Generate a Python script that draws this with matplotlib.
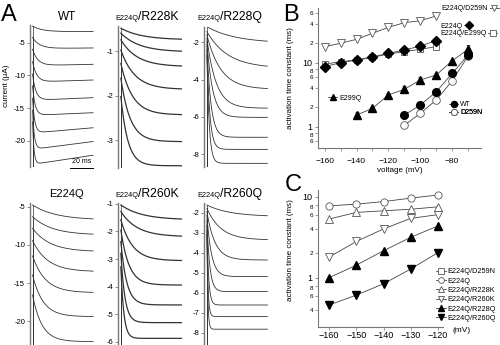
import numpy as np
import matplotlib
matplotlib.use('Agg')
import matplotlib.pyplot as plt
from matplotlib.ticker import FixedLocator, FixedFormatter, MultipleLocator
from matplotlib.lines import Line2D

plt.rcParams['font.family'] = ['Liberation Sans', 'DejaVu Sans']

# ---------------- panel A: current traces (levels in uA, tau in ms) ----------------
wt_start = [-2.45, -4.2, -6.0, -7.9, -9.8, -11.6, -13.5, -15.3, -17.1]
wt_peak = [-3.3, -5.9, -8.5, -11.0, -13.8, -16.1, -18.8, -21.3, -23.6]
wt_end = [-3.3, -5.8, -8.3, -10.7, -13.4, -15.7, -18.0, -20.1, -22.2]
wt_tau = [8, 6, 4.5, 3.5, 2.8, 2.2, 1.8, 1.5, 1.2]

r228k_start = [-0.49, -0.60, -0.75, -0.98, -1.28, -1.61, -2.02]
r228k_end = [-0.75, -1.02, -1.35, -1.86, -2.43, -3.03, -3.57]
r228k_tau = [18, 16, 14, 12, 10, 8, 6]

r228q_start = [-1.16, -1.42, -1.60, -1.78, -1.96, -2.14, -2.41, -2.68]
r228q_end = [-2.05, -3.39, -4.52, -5.54, -6.03, -7.10, -7.75, -8.50]
r228q_tau = [25, 18, 12, 8, 5, 3.5, 2.5, 2]

e224q_start = [-4.79, -6.32, -7.83, -9.45, -11.45, -13.93, -16.54]
e224q_end = [-6.75, -8.71, -10.89, -13.5, -16.24, -19.37, -22.63]
e224q_tau = [20, 17, 15, 13, 11, 9, 8]

r260k_start = [-1.04, -1.28, -1.58, -1.95, -2.37, -2.79, -3.28]
r260k_end = [-1.58, -2.19, -3.06, -3.94, -4.66, -5.30, -5.87]
r260k_tau = [18, 14, 10, 7, 5, 3.5, 2.5]

r260q_start = [-1.62, -1.78, -1.95, -2.12, -2.37, -2.62, -2.87, -3.12]
r260q_end = [-2.2, -3.37, -4.37, -5.2, -5.95, -6.62, -7.2, -7.83]
r260q_tau = [20, 12, 7, 4, 2.5, 1.5, 1.0, 0.8]

# ---------------- panel B: activation time constants (ms) ----------------
volt_b = [-160, -150, -140, -130, -120, -110, -100, -90]
b_e224q_d259n = [17.8, 20.1, 23.2, 28.8, 35.7, 42.2, 45.3, 53.7]
b_e224q = [8.7, 10.0, 11.0, 12.4, 14.0, 15.8, 18.2, 22.1]
b_e224q_e299q = [9.5, 10.4, 11.0, 12.1, 13.7, 14.9, 16.2, 17.8]
volt_b2 = [-140, -130, -120, -110, -100, -90, -80, -70]
b_e299q = [1.52, 1.94, 3.13, 3.84, 5.37, 6.42, 10.7, 16.2]
b_e299q_err = [0.2, 0.1, 0.2, 0.5, 0.7, 0.6, 0.4, 2.6]
volt_b3 = [-110, -100, -90, -80, -70]
b_wt = [1.52, 2.18, 3.5, 6.8, 13.2]
b_d259n = [1.05, 1.62, 2.61, 5.2, 12.7]

# ---------------- panel C ----------------
volt_c = [-160, -150, -140, -130, -120]
c_e224q = [7.7, 8.1, 8.7, 9.6, 10.5]
c_r228k = [5.3, 6.4, 6.7, 7.0, 7.5]
c_r260k = [1.8, 2.8, 4.0, 5.4, 6.0]
c_r228q = [1.0, 1.43, 2.15, 3.15, 4.35]
c_r260q = [0.46, 0.61, 0.84, 1.28, 2.04]

W, H = 500, 345
fig = plt.figure(figsize=(5, 3.45), dpi=100)


def rect(x0, y0, x1, y1):
    # pixel box -> figure fraction
    return [x0 / W, 1 - y1 / H, (x1 - x0) / W, (y1 - y0) / H]


GREY = '#777777'
TR = '#333333'
t = np.linspace(0, 52, 300)


def trace_panel(x0, y0, y1, ylim, yticks, starts, ends, taus, peaks=None, lw=0.6):
    ax = fig.add_axes(rect(x0, y0, x0 + 66.6, y1))
    ax.set_xlim(-2.2, 55)
    ax.set_ylim(ylim)
    for s in ['top', 'right', 'bottom']:
        ax.spines[s].set_visible(False)
    ax.spines['left'].set_color(GREY)
    ax.spines['left'].set_linewidth(1.0)
    ax.set_xticks([])
    ax.set_yticks(yticks)
    ax.set_yticklabels([str(v) for v in yticks])
    ax.tick_params(axis='y', length=2, width=0.6, color=GREY, labelsize=5.5, pad=1.5)
    if peaks is None:
        peaks = ends
    for s, p, e, tau in zip(starts, peaks, ends, taus):
        y = s + (p - s) * (1 - np.exp(-t / tau)) + (e - p) * t / t[-1]
        ax.plot(t, y, color=TR, lw=lw)
        ax.plot([0, 0], [s, ylim[0] - 10], color=TR, lw=0.5)
    ax.patch.set_visible(False)
    return ax


ax_wt = trace_panel(30, 25, 167, (-24.0, -2.29), [-5, -10, -15, -20], wt_start, wt_end, wt_tau, wt_peak)
trace_panel(118.3, 26, 168, (-3.62, -0.44), [-1, -2, -3], r228k_start, r228k_end, r228k_tau, lw=0.9)
trace_panel(204.3, 26.7, 166.7, (-8.68, -1.16), [-2, -4, -6, -8], r228q_start, r228q_end, r228q_tau)
trace_panel(30, 203, 345, (-23.07, -4.53), [-5, -10, -15, -20], e224q_start, e224q_end, e224q_tau)
trace_panel(118.3, 203, 345, (-6.11, -0.97), [-1, -2, -3, -4, -5, -6], r260k_start, r260k_end, r260k_tau, lw=0.9)
trace_panel(204.3, 203, 345, (-8.62, -1.52), [-2, -3, -4, -5, -6, -7, -8], r260q_start, r260q_end, r260q_tau)

# scale bar
tr = ax_wt.get_xaxis_transform()
ax_wt.plot([32, 52], [-0.008, -0.008], color='k', lw=0.7, transform=tr, clip_on=False)
ax_wt.text(42, 0.012, '20 ms', transform=tr, ha='center', va='bottom', fontsize=5)

fig.text(7 / W, 1 - 86 / H, 'current (\u00b5A)', rotation=90, ha='center', va='center', fontsize=5.8)

# titles
fig.text(66.7 / W, 1 - 20 / H, 'WT', ha='center', va='baseline', fontsize=8.5)
fig.text(66 / W, 1 - 197 / H, 'E224Q', ha='center', va='baseline', fontsize=8)
for xs, yb, big in [(138.3, 20, '/R228K'), (220.5, 20, '/R228Q'),
                    (138.3, 197, '/R260K'), (220.5, 197, '/R260Q')]:
    fig.text(xs / W, 1 - yb / H, 'E224Q', ha='right', va='baseline', fontsize=5.3)
    fig.text(xs / W, 1 - yb / H, big, ha='left', va='baseline', fontsize=8.8)

# panel letters
for lx, ly, lt in [(1, 21, 'A'), (283, 21, 'B'), (285, 191, 'C')]:
    fig.text(lx / W, 1 - ly / H, lt, fontsize=17, ha='left', va='baseline')

LC = '#444444'
EC = '#555555'


def style_log(ax, minor_vals, minor_labels):
    ax.set_yscale('log')
    for s in ['top', 'right']:
        ax.spines[s].set_visible(False)
    for s in ['left', 'bottom']:
        ax.spines[s].set_color(GREY)
        ax.spines[s].set_linewidth(0.8)
    ax.yaxis.set_major_locator(FixedLocator([1, 10]))
    ax.yaxis.set_major_formatter(FixedFormatter(['1', '10']))
    ax.yaxis.set_minor_locator(FixedLocator(minor_vals))
    ax.yaxis.set_minor_formatter(FixedFormatter(minor_labels))
    ax.tick_params(axis='y', which='major', labelsize=6.5, length=2.5, width=0.6, color=GREY, pad=1.5)
    ax.tick_params(axis='y', which='minor', labelsize=4.5, length=2, width=0.5, color=GREY, pad=1.5)
    # the "8" just under each decade label sits below its tick so it does not collide
    for tick, v in zip(ax.yaxis.get_minor_ticks(len(minor_vals)), minor_vals):
        if v in (0.8, 8):
            tick.label1.set_verticalalignment('top')
    ax.patch.set_visible(False)


# ---------------- B ----------------
axb = fig.add_axes(rect(318.3, 8, 480.8, 148))
style_log(axb, [0.6, 0.8, 2, 4, 6, 8, 20, 40, 60], ['6', '8', '2', '4', '6', '8', '2', '4', '6'])
axb.set_xlim(-164, -62)
axb.set_ylim(0.465, 71.6)
axb.xaxis.set_major_locator(FixedLocator([-160, -140, -120, -100, -80]))
axb.xaxis.set_minor_locator(MultipleLocator(10))
axb.tick_params(axis='x', which='both', labelsize=6, length=2, width=0.5, color=GREY, pad=5)
axb.set_xlabel('voltage (mV)', fontsize=5.8, labelpad=2)
axb.set_ylabel('activation time constant (ms)', fontsize=5.8)
axb.yaxis.set_label_coords(-0.15, 0.5)

ms = 5.2
h_d259n_e224q, = axb.plot(volt_b, b_e224q_d259n, color=LC, lw=0.6, marker='v', ms=ms, mfc='white', mec=EC, mew=0.6)
h_e224q_e299q, = axb.plot(volt_b, b_e224q_e299q, color=LC, lw=0.6, marker='s', ms=ms - 0.3, mfc='white', mec=EC, mew=0.6)
h_e224q, = axb.plot(volt_b, b_e224q, color=LC, lw=0.6, marker='D', ms=ms - 0.6, mfc='k', mec='k')
axb.errorbar(volt_b2, b_e299q, yerr=[np.zeros(len(b_e299q)), b_e299q_err], fmt='none', ecolor=LC, elinewidth=0.5, capsize=1.5, capthick=0.5)
h_e299q, = axb.plot(volt_b2, b_e299q, color=LC, lw=0.6, marker='^', ms=ms, mfc='k', mec='k')
h_d259n, = axb.plot(volt_b3, b_d259n, color=LC, lw=0.6, marker='o', ms=ms + 0.3, mfc='white', mec=EC, mew=0.6)
h_wt, = axb.plot(volt_b3, b_wt, color=LC, lw=0.6, marker='o', ms=ms + 0.3, mfc='k', mec='k')


def tag(ax, handle, label, px, loc, markerfirst=True):
    leg = ax.legend([handle], [label], loc=loc, bbox_to_anchor=(px[0] / W, 1 - px[1] / H),
                    bbox_transform=fig.transFigure, frameon=False, fontsize=5,
                    handlelength=1.3, handletextpad=0.3, borderpad=0, borderaxespad=0,
                    markerfirst=markerfirst, numpoints=1, markerscale=0.8)
    ax.add_artist(leg)


tag(axb, h_d259n_e224q, 'E224Q/D259N', (499, 8.5), 'center right', markerfirst=False)
tag(axb, h_e224q, 'E224Q', (440, 26), 'center left', markerfirst=False)
tag(axb, h_e224q_e299q, 'E224Q/E299Q', (440, 33.5), 'center left', markerfirst=False)
tag(axb, h_e299q, 'E299Q', (328, 98), 'center left')
tag(axb, h_wt, 'WT', (449, 105), 'center left')
tag(axb, h_d259n, 'D259N', (449, 113), 'center left')

# ---------------- C ----------------
axc = fig.add_axes(rect(318.3, 190, 443.3, 327.3))
style_log(axc, [0.4, 0.6, 0.8, 2, 4, 6, 8], ['4', '6', '8', '2', '4', '6', '8'])
axc.set_xlim(-164, -118)
axc.set_ylim(0.244, 12.1)
axc.xaxis.set_major_locator(FixedLocator(volt_c))
axc.tick_params(axis='x', labelsize=6.5, length=2, width=0.5, color=GREY, pad=0.5)
axc.set_ylabel('activation time constant (ms)', fontsize=5.8)
axc.yaxis.set_label_coords(-0.194, 0.56)
fig.text(462 / W, 1 - 331 / H, '(mV)', fontsize=6, ha='center', va='center')

hc_d259n = Line2D([], [], color=LC, lw=0.6, marker='s', ms=ms - 0.3, mfc='white', mec=EC, mew=0.6)
hc_e224q, = axc.plot(volt_c, c_e224q, color=LC, lw=0.6, marker='o', ms=ms, mfc='white', mec=EC, mew=0.6)
hc_r228k, = axc.plot(volt_c, c_r228k, color=LC, lw=0.6, marker='^', ms=ms, mfc='white', mec=EC, mew=0.6)
hc_r260k, = axc.plot(volt_c, c_r260k, color=LC, lw=0.6, marker='v', ms=ms, mfc='white', mec=EC, mew=0.6)
hc_r228q, = axc.plot(volt_c, c_r228q, color=LC, lw=0.6, marker='^', ms=ms, mfc='k', mec='k')
hc_r260q, = axc.plot(volt_c, c_r260q, color=LC, lw=0.6, marker='v', ms=ms, mfc='k', mec='k')

legc = axc.legend([hc_d259n, hc_e224q, hc_r228k, hc_r260k, hc_r228q, hc_r260q],
                  ['E224Q/D259N', 'E224Q', 'E224Q/R228K', 'E224Q/R260K', 'E224Q/R228Q', 'E224Q/R260Q'],
                  loc='upper left', bbox_to_anchor=(436 / W, 1 - 268 / H), bbox_transform=fig.transFigure,
                  frameon=False, fontsize=5.3, handlelength=1.3, handletextpad=0.3, borderpad=0,
                  borderaxespad=0, labelspacing=0.3, numpoints=1, markerscale=0.8)

fig.savefig('out.png', dpi=100)
